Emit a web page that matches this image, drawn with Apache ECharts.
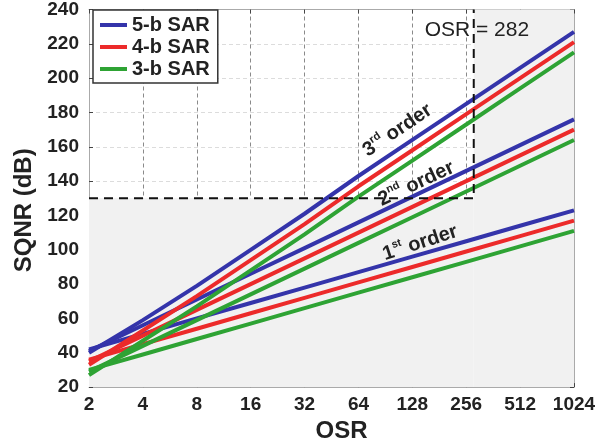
<!DOCTYPE html>
<html>
<head>
<meta charset="utf-8">
<script src="https://cdn.jsdelivr.net/npm/echarts@6/dist/echarts.min.js"></script>
<style>
  html, body { margin: 0; padding: 0; background: #ffffff; }
  #chart { width: 602px; height: 448px; }
</style>
</head>
<body>
<div id="chart"></div>
<script>
// Oversampling ratios (x) and SQNR in dB (y) for each loop order / quantizer resolution
const osr = [2, 4, 8, 16, 32, 64, 128, 256, 512, 1024];

const order3_5b = [40, 59, 79, 100, 121, 143, 164, 185, 206, 227];
const order3_4b = [33, 53, 73, 94, 115, 137, 158, 179, 200, 221];
const order3_3b = [27, 47, 67, 88, 109, 131, 152, 173, 194, 215];

const order2_5b = [41, 56, 71, 86, 101, 116, 131, 146, 161, 176];
const order2_4b = [35, 50, 65, 80, 95, 110, 125, 140, 155, 170];
const order2_3b = [29, 44, 59, 74, 89, 104, 119, 134, 149, 164];

const order1_5b = [42, 51, 60, 69, 78, 87, 96, 105, 114, 123];
const order1_4b = [36, 45, 54, 63, 72, 81, 90, 99, 108, 117];
const order1_3b = [30, 39, 48, 57, 66, 75, 84, 93, 102, 111];

const sarNames = ['5-b SAR', '4-b SAR', '3-b SAR'];
const targetSqnr = 130;
const targetOsr = 282;

const FONT = '"Liberation Sans", Arial, sans-serif';
const colors = { '5-b SAR': '#3434aa', '4-b SAR': '#ec2a2a', '3-b SAR': '#2ea334' };

const pairs = ys => osr.map((x, i) => [x, ys[i]]);

function curve(name, ys) {
  return {
    type: 'line', name, data: pairs(ys), showSymbol: false, symbol: 'none',
    color: colors[name], lineStyle: { width: 4, color: colors[name] },
    z: 3, silent: true, animation: false
  };
}

const chart = echarts.init(document.getElementById('chart'), null, { renderer: 'canvas' });

const xBase = {
  type: 'log', logBase: 2, min: 2, max: 1024, splitNumber: 9
};
const yBase = { type: 'value', min: 20, max: 240, interval: 20 };

chart.setOption({
  animation: false,
  backgroundColor: '#ffffff',
  textStyle: { fontFamily: FONT },
  grid: { left: 89, right: 28, top: 6, bottom: 56 },
  legend: {
    orient: 'vertical', left: 93, top: 10,
    data: sarNames,
    icon: 'rect', itemWidth: 27, itemHeight: 4, itemGap: 2,
    padding: [5, 8, 4, 7],
    backgroundColor: '#ffffff', borderColor: '#333333', borderWidth: 1.5,
    textStyle: { fontFamily: FONT, fontWeight: 'bold', fontSize: 20, color: '#222', lineHeight: 20 },
    selectedMode: false
  },
  xAxis: [
    Object.assign({}, xBase, {
      position: 'bottom',
      name: 'OSR', nameLocation: 'middle', nameGap: 30,
      nameTextStyle: { fontFamily: FONT, fontWeight: 'bold', fontSize: 24, color: '#222', padding: [0, 0, 0, 20] },
      axisLine: { show: true, lineStyle: { color: '#aaaaaa', width: 1 } },
      axisTick: { show: true, inside: true, length: 4, lineStyle: { color: '#444' } },
      axisLabel: {
        fontFamily: FONT, fontWeight: 'bold', fontSize: 19, color: '#222', margin: 8,
        formatter: v => String(Math.round(v))
      },
      splitLine: { show: true, lineStyle: { color: '#8a8a8a', width: 1, type: [4, 3] } },
      minorTick: { show: false }, minorSplitLine: { show: false }
    }),
    Object.assign({}, xBase, {
      position: 'top',
      axisLine: { show: true, lineStyle: { color: '#aaaaaa', width: 1 } },
      axisTick: { show: true, inside: true, length: 4, lineStyle: { color: '#444' } },
      axisLabel: { show: false }, splitLine: { show: false }
    })
  ],
  yAxis: [
    Object.assign({}, yBase, {
      position: 'left',
      name: 'SQNR (dB)', nameLocation: 'middle', nameGap: 52,
      nameTextStyle: { fontFamily: FONT, fontWeight: 'bold', fontSize: 24, color: '#222', padding: [0, 24, 0, 0] },
      axisLine: { show: true, lineStyle: { color: '#aaaaaa', width: 1 } },
      axisTick: { show: true, inside: true, length: 4, lineStyle: { color: '#444' } },
      axisLabel: { fontFamily: FONT, fontWeight: 'bold', fontSize: 19, color: '#222', margin: 10 },
      splitLine: { show: true, lineStyle: { color: '#dcdcdc', width: 1, type: [4, 3] } }
    }),
    Object.assign({}, yBase, {
      position: 'right',
      axisLine: { show: true, lineStyle: { color: '#aaaaaa', width: 1 } },
      axisTick: { show: true, inside: true, length: 4, lineStyle: { color: '#444' } },
      axisLabel: { show: false }, splitLine: { show: false }
    })
  ],
  series: [
    // shaded region outside the target box (OSR <= 282, SQNR >= 130)
    {
      type: 'line', name: 'shade', data: [], z: -1, silent: true,
      markArea: {
        silent: true,
        itemStyle: { color: '#f1f1f1' },
        data: [
          [{ coord: [osr[0], 20] }, { coord: [targetOsr, targetSqnr] }],
          [{ coord: [targetOsr, 20] }, { coord: [osr[osr.length - 1], 240] }]
        ]
      }
    },
    curve('3-b SAR', order1_3b), curve('4-b SAR', order1_4b), curve('5-b SAR', order1_5b),
    curve('3-b SAR', order2_3b), curve('4-b SAR', order2_4b), curve('5-b SAR', order2_5b),
    curve('3-b SAR', order3_3b), curve('4-b SAR', order3_4b), curve('5-b SAR', order3_5b),
    // target box boundary
    {
      type: 'line', name: 'target', silent: true, showSymbol: false, symbol: 'none', z: 4,
      data: [[osr[0], targetSqnr], [targetOsr, targetSqnr], [targetOsr, 240]],
      lineStyle: { color: '#111111', width: 2, type: [9, 6] }, color: '#111111'
    }
  ]
});

// Order annotations and the OSR marker label, placed in data coordinates
function orderLabel(pos, num, sup, deg) {
  const p = chart.convertToPixel({ gridIndex: 0 }, pos);
  return {
    type: 'text', x: p[0], y: p[1], rotation: deg * Math.PI / 180, z: 10, silent: true,
    style: {
      text: '{n|' + num + '}{s|' + sup + '}{n| order}',
      align: 'center', verticalAlign: 'middle',
      rich: {
        n: { fontFamily: FONT, fontWeight: 'bold', fontSize: 20, fill: '#222', lineHeight: 22, verticalAlign: 'bottom' },
        s: { fontFamily: FONT, fontWeight: 'bold', fontSize: 11, fill: '#222', lineHeight: 22, verticalAlign: 'top' }
      }
    }
  };
}
const osrLabelPos = chart.convertToPixel({ gridIndex: 0 }, [150, 228]);

chart.setOption({
  graphic: [
    orderLabel([105, 170], '3', 'rd', 34),
    orderLabel([134, 139], '2', 'nd', 25),
    orderLabel([141, 104.5], '1', 'st', 18),
    {
      type: 'text', x: osrLabelPos[0], y: osrLabelPos[1], z: 10, silent: true,
      style: {
        text: 'OSR = ' + targetOsr, fontFamily: FONT, fontSize: 21, fill: '#222',
        align: 'left', verticalAlign: 'middle'
      }
    }
  ]
});
</script>
</body>
</html>
